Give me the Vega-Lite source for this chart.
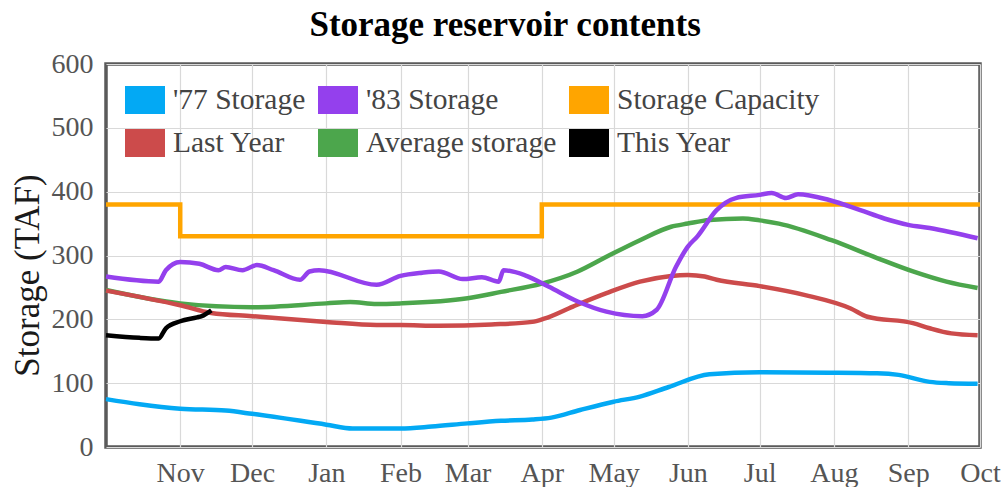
{
  "$schema": "https://vega.github.io/schema/vega-lite/v6.json",
  "width": 874,
  "height": 383,
  "autosize": {"type": "none"},
  "padding": {"left": 106, "top": 64, "right": 21, "bottom": 40},
  "background": "white",
  "title": {
    "text": "Storage reservoir contents",
    "font": "Liberation Serif",
    "fontSize": 35,
    "fontWeight": "bold",
    "color": "#000",
    "anchor": "middle",
    "frame": "bounds",
    "baseline": "alphabetic",
    "offset": -21
  },
  "config": {
    "view": {"stroke": "#5a5a5a", "strokeWidth": 3.5},
    "font": "Liberation Serif"
  },
  "data": {
    "values": [
      {"series": "Storage Capacity", "date": "2022-10-01", "value": 380},
      {"series": "Storage Capacity", "date": "2022-11-01", "value": 330},
      {"series": "Storage Capacity", "date": "2023-04-01", "value": 380},
      {"series": "Storage Capacity", "date": "2023-10-01", "value": 380},

      {"series": "'77 Storage", "date": "2022-10-01", "value": 75},
      {"series": "'77 Storage", "date": "2022-10-15", "value": 67},
      {"series": "'77 Storage", "date": "2022-11-01", "value": 60},
      {"series": "'77 Storage", "date": "2022-11-20", "value": 57},
      {"series": "'77 Storage", "date": "2022-12-01", "value": 52},
      {"series": "'77 Storage", "date": "2023-01-01", "value": 35},
      {"series": "'77 Storage", "date": "2023-01-12", "value": 29},
      {"series": "'77 Storage", "date": "2023-02-01", "value": 29},
      {"series": "'77 Storage", "date": "2023-02-14", "value": 32},
      {"series": "'77 Storage", "date": "2023-03-01", "value": 37},
      {"series": "'77 Storage", "date": "2023-03-15", "value": 41},
      {"series": "'77 Storage", "date": "2023-03-28", "value": 43},
      {"series": "'77 Storage", "date": "2023-04-05", "value": 46},
      {"series": "'77 Storage", "date": "2023-04-17", "value": 58},
      {"series": "'77 Storage", "date": "2023-05-01", "value": 71},
      {"series": "'77 Storage", "date": "2023-05-12", "value": 79},
      {"series": "'77 Storage", "date": "2023-05-24", "value": 94},
      {"series": "'77 Storage", "date": "2023-06-10", "value": 114},
      {"series": "'77 Storage", "date": "2023-07-01", "value": 117},
      {"series": "'77 Storage", "date": "2023-07-30", "value": 116.5},
      {"series": "'77 Storage", "date": "2023-08-19", "value": 115.5},
      {"series": "'77 Storage", "date": "2023-08-28", "value": 113},
      {"series": "'77 Storage", "date": "2023-09-10", "value": 102},
      {"series": "'77 Storage", "date": "2023-09-18", "value": 100},
      {"series": "'77 Storage", "date": "2023-09-30", "value": 99},

      {"series": "Average storage", "date": "2022-10-01", "value": 246},
      {"series": "Average storage", "date": "2022-11-01", "value": 225},
      {"series": "Average storage", "date": "2022-12-01", "value": 219},
      {"series": "Average storage", "date": "2023-01-01", "value": 225},
      {"series": "Average storage", "date": "2023-01-11", "value": 227},
      {"series": "Average storage", "date": "2023-01-22", "value": 224},
      {"series": "Average storage", "date": "2023-02-01", "value": 225},
      {"series": "Average storage", "date": "2023-03-01", "value": 233},
      {"series": "Average storage", "date": "2023-03-15", "value": 243},
      {"series": "Average storage", "date": "2023-04-01", "value": 256},
      {"series": "Average storage", "date": "2023-04-16", "value": 275},
      {"series": "Average storage", "date": "2023-04-28", "value": 298},
      {"series": "Average storage", "date": "2023-05-12", "value": 324},
      {"series": "Average storage", "date": "2023-05-25", "value": 345},
      {"series": "Average storage", "date": "2023-06-01", "value": 350},
      {"series": "Average storage", "date": "2023-06-10", "value": 355.6},
      {"series": "Average storage", "date": "2023-06-24", "value": 358},
      {"series": "Average storage", "date": "2023-07-01", "value": 355},
      {"series": "Average storage", "date": "2023-07-09", "value": 350},
      {"series": "Average storage", "date": "2023-07-31", "value": 324},
      {"series": "Average storage", "date": "2023-08-19", "value": 296},
      {"series": "Average storage", "date": "2023-09-03", "value": 275},
      {"series": "Average storage", "date": "2023-09-17", "value": 259},
      {"series": "Average storage", "date": "2023-09-30", "value": 249},

      {"series": "Last Year", "date": "2022-10-01", "value": 245},
      {"series": "Last Year", "date": "2022-11-01", "value": 222},
      {"series": "Last Year", "date": "2022-11-14", "value": 210},
      {"series": "Last Year", "date": "2022-12-01", "value": 205},
      {"series": "Last Year", "date": "2023-01-01", "value": 196},
      {"series": "Last Year", "date": "2023-01-22", "value": 191},
      {"series": "Last Year", "date": "2023-02-01", "value": 191},
      {"series": "Last Year", "date": "2023-02-17", "value": 190},
      {"series": "Last Year", "date": "2023-03-11", "value": 192},
      {"series": "Last Year", "date": "2023-03-28", "value": 196},
      {"series": "Last Year", "date": "2023-04-02", "value": 201},
      {"series": "Last Year", "date": "2023-04-14", "value": 220},
      {"series": "Last Year", "date": "2023-04-28", "value": 241},
      {"series": "Last Year", "date": "2023-05-12", "value": 259},
      {"series": "Last Year", "date": "2023-05-25", "value": 268},
      {"series": "Last Year", "date": "2023-06-01", "value": 269.5},
      {"series": "Last Year", "date": "2023-06-08", "value": 267},
      {"series": "Last Year", "date": "2023-06-13", "value": 262},
      {"series": "Last Year", "date": "2023-07-01", "value": 252},
      {"series": "Last Year", "date": "2023-07-20", "value": 238},
      {"series": "Last Year", "date": "2023-08-08", "value": 217},
      {"series": "Last Year", "date": "2023-08-15", "value": 204},
      {"series": "Last Year", "date": "2023-09-03", "value": 194},
      {"series": "Last Year", "date": "2023-09-10", "value": 186},
      {"series": "Last Year", "date": "2023-09-19", "value": 178},
      {"series": "Last Year", "date": "2023-09-30", "value": 175},

      {"series": "'83 Storage", "date": "2022-10-01", "value": 267},
      {"series": "'83 Storage", "date": "2022-10-23", "value": 259},
      {"series": "'83 Storage", "date": "2022-10-26", "value": 277},
      {"series": "'83 Storage", "date": "2022-11-01", "value": 290},
      {"series": "'83 Storage", "date": "2022-11-09", "value": 287},
      {"series": "'83 Storage", "date": "2022-11-17", "value": 277},
      {"series": "'83 Storage", "date": "2022-11-20", "value": 282},
      {"series": "'83 Storage", "date": "2022-11-27", "value": 277},
      {"series": "'83 Storage", "date": "2022-12-03", "value": 285},
      {"series": "'83 Storage", "date": "2022-12-10", "value": 277},
      {"series": "'83 Storage", "date": "2022-12-21", "value": 262},
      {"series": "'83 Storage", "date": "2022-12-25", "value": 275},
      {"series": "'83 Storage", "date": "2022-12-29", "value": 277},
      {"series": "'83 Storage", "date": "2023-01-22", "value": 254},
      {"series": "'83 Storage", "date": "2023-02-01", "value": 268},
      {"series": "'83 Storage", "date": "2023-02-10", "value": 273},
      {"series": "'83 Storage", "date": "2023-02-17", "value": 275},
      {"series": "'83 Storage", "date": "2023-02-27", "value": 263},
      {"series": "'83 Storage", "date": "2023-03-07", "value": 266},
      {"series": "'83 Storage", "date": "2023-03-14", "value": 259},
      {"series": "'83 Storage", "date": "2023-03-16", "value": 277},
      {"series": "'83 Storage", "date": "2023-03-25", "value": 269},
      {"series": "'83 Storage", "date": "2023-04-04", "value": 251},
      {"series": "'83 Storage", "date": "2023-04-16", "value": 228},
      {"series": "'83 Storage", "date": "2023-04-28", "value": 212},
      {"series": "'83 Storage", "date": "2023-05-13", "value": 205},
      {"series": "'83 Storage", "date": "2023-05-19", "value": 215},
      {"series": "'83 Storage", "date": "2023-05-27", "value": 282},
      {"series": "'83 Storage", "date": "2023-06-01", "value": 314},
      {"series": "'83 Storage", "date": "2023-06-05", "value": 330},
      {"series": "'83 Storage", "date": "2023-06-13", "value": 371},
      {"series": "'83 Storage", "date": "2023-06-21", "value": 390},
      {"series": "'83 Storage", "date": "2023-07-01", "value": 395},
      {"series": "'83 Storage", "date": "2023-07-06", "value": 398},
      {"series": "'83 Storage", "date": "2023-07-12", "value": 390},
      {"series": "'83 Storage", "date": "2023-07-17", "value": 396},
      {"series": "'83 Storage", "date": "2023-07-30", "value": 387},
      {"series": "'83 Storage", "date": "2023-08-12", "value": 371},
      {"series": "'83 Storage", "date": "2023-08-22", "value": 358},
      {"series": "'83 Storage", "date": "2023-09-01", "value": 348},
      {"series": "'83 Storage", "date": "2023-09-10", "value": 343},
      {"series": "'83 Storage", "date": "2023-09-30", "value": 327},

      {"series": "This Year", "date": "2022-10-01", "value": 175},
      {"series": "This Year", "date": "2022-10-15", "value": 171},
      {"series": "This Year", "date": "2022-10-23", "value": 170},
      {"series": "This Year", "date": "2022-10-26", "value": 186},
      {"series": "This Year", "date": "2022-11-01", "value": 197},
      {"series": "This Year", "date": "2022-11-08", "value": 203},
      {"series": "This Year", "date": "2022-11-10", "value": 205},
      {"series": "This Year", "date": "2022-11-14", "value": 214}
    ]
  },
  "encoding": {
    "x": {
      "field": "date",
      "type": "temporal",
      "scale": {
        "type": "utc",
        "domain": [
          {"year": 2022, "month": 10, "date": 1, "utc": true},
          {"year": 2023, "month": 10, "date": 1, "utc": true}
        ]
      },
      "axis": {
        "title": null,
        "labelExpr": "utcFormat(datum.value, '%b')",
        "values": [
          {"year": 2022, "month": 11, "date": 1, "utc": true},
          {"year": 2022, "month": 12, "date": 1, "utc": true},
          {"year": 2023, "month": 1, "date": 1, "utc": true},
          {"year": 2023, "month": 2, "date": 1, "utc": true},
          {"year": 2023, "month": 3, "date": 1, "utc": true},
          {"year": 2023, "month": 4, "date": 1, "utc": true},
          {"year": 2023, "month": 5, "date": 1, "utc": true},
          {"year": 2023, "month": 6, "date": 1, "utc": true},
          {"year": 2023, "month": 7, "date": 1, "utc": true},
          {"year": 2023, "month": 8, "date": 1, "utc": true},
          {"year": 2023, "month": 9, "date": 1, "utc": true},
          {"year": 2023, "month": 10, "date": 1, "utc": true}
        ],
        "domain": false,
        "ticks": false,
        "grid": true,
        "gridColor": "#d9d9d9",
        "gridWidth": 1.2,
        "labelFont": "Liberation Serif",
        "labelFontSize": 28,
        "labelColor": "#555",
        "labelPadding": 12,
        "labelFlush": false,
        "labelOverlap": false
      }
    },
    "y": {
      "field": "value",
      "type": "quantitative",
      "scale": {"domain": [0, 600], "nice": false},
      "axis": {
        "title": "Storage (TAF)",
        "titleFont": "Liberation Serif",
        "titleFontSize": 35,
        "titleFontWeight": "normal",
        "titleColor": "#1a1a1a",
        "titlePadding": 6,
        "titleY": 211,
        "values": [0, 100, 200, 300, 400, 500, 600],
        "domain": false,
        "ticks": false,
        "grid": true,
        "gridColor": "#d9d9d9",
        "gridWidth": 1.2,
        "labelFont": "Liberation Serif",
        "labelFontSize": 28,
        "labelColor": "#555",
        "labelPadding": 13
      }
    },
    "color": {
      "field": "series",
      "type": "nominal",
      "scale": {
        "domain": ["'77 Storage", "'83 Storage", "Storage Capacity", "Last Year", "Average storage", "This Year"],
        "range": ["#03a9f4", "#9440ed", "#ffa500", "#cc4b4b", "#4ca64c", "#000000"]
      },
      "legend": {
        "title": null,
        "orient": "none",
        "legendX": 19,
        "legendY": 16,
        "direction": "horizontal",
        "columns": 3,
        "columnPadding": 9,
        "rowPadding": 6,
        "padding": 0,
        "symbolType": "M-1,-0.68H1V0.68H-1Z",
        "symbolSize": 1444,
        "symbolStrokeColor": "#c8c8c8",
        "symbolStrokeWidth": 2,
        "labelFont": "Liberation Serif",
        "labelFontSize": 29.5,
        "labelColor": "#444",
        "labelOffset": 8,
        "labelLimit": 400,
        "encode": {
          "symbols": {
            "update": {
              "fill": {"scale": "color", "field": "value"},
              "stroke": {"value": "#c8c8c8"},
              "strokeWidth": {"value": 2},
              "opacity": {"value": 1},
              "fillOpacity": {"value": 1}
            }
          }
        }
      }
    }
  },
  "layer": [
    {
      "transform": [{"filter": "datum.series === 'Storage Capacity'"}],
      "mark": {"type": "line", "interpolate": "step-after", "strokeWidth": 4.5}
    },
    {
      "transform": [{"filter": "datum.series !== 'Storage Capacity'"}],
      "mark": {"type": "line", "interpolate": "monotone", "strokeWidth": 4.5}
    }
  ]
}
